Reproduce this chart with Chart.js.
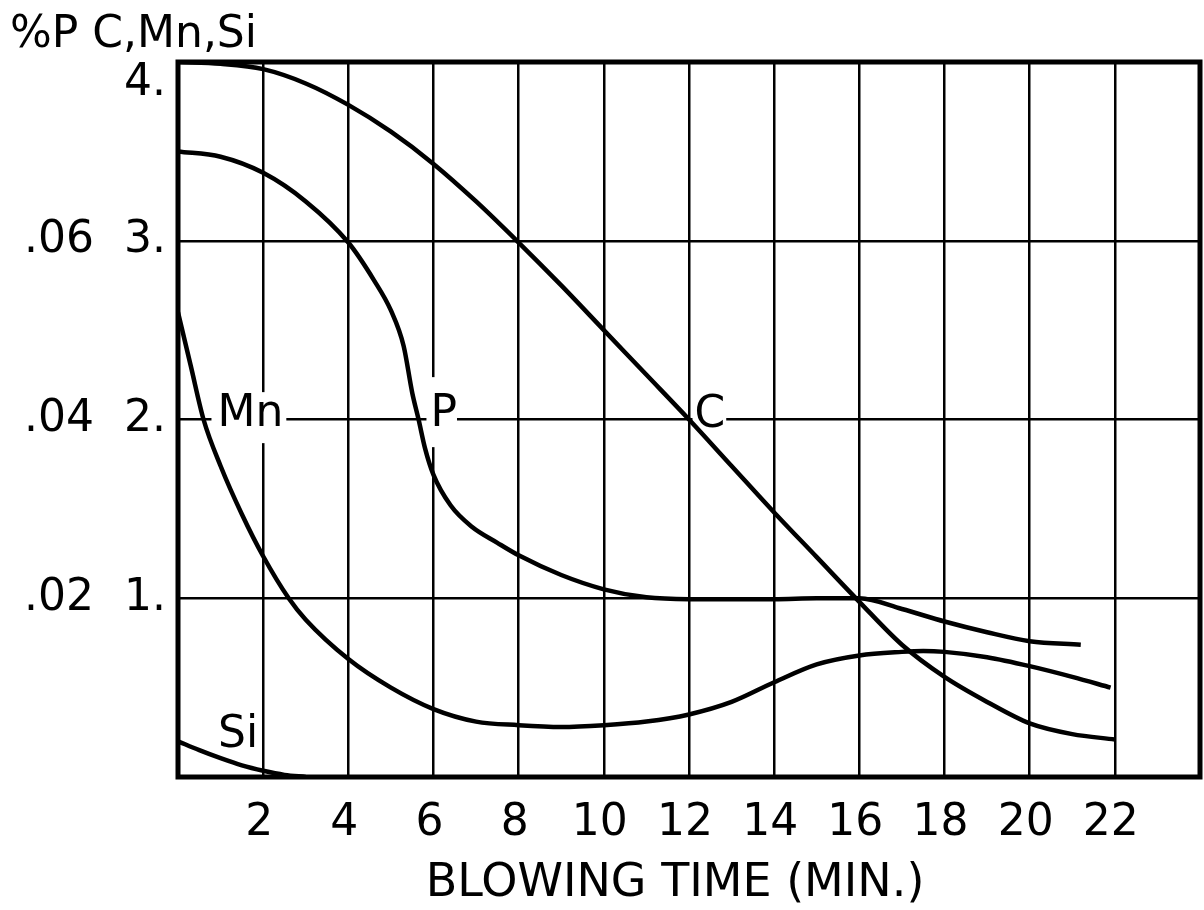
<!DOCTYPE html>
<html>
<head>
<meta charset="utf-8">
<script src="https://cdn.jsdelivr.net/npm/chart.js@4.4.1/dist/chart.umd.min.js"></script>
<style>
html,body{margin:0;padding:0;background:#fff;}
#wrap{width:1204px;height:910px;position:relative;}
</style>
</head>
<body>
<div id="wrap"><canvas id="c" width="1204" height="910"></canvas></div>
<script>
// ---- tick values and labels ----
const timeTicks = [2, 4, 6, 8, 10, 12, 14, 16, 18, 20, 22];
const timeTickLabels = ["2", "4", "6", "8", "10", "12", "14", "16", "18", "20", "22"];
const cmnsiTicks = [1, 2, 3, 4];
const cmnsiTickLabels = ["1.", "2.", "3.", "4."];
const pTicks = [0.02, 0.04, 0.06];
const pTickLabels = [".02", ".04", ".06"];

// ---- series (blowing time in min, %) ----
const cTime  = [0, 1, 2, 3, 4, 5, 6, 7, 8, 9, 10, 11, 12, 13, 14, 15, 16, 17, 18, 19, 20, 21, 22];
const cValue = [4.0, 3.99, 3.96, 3.88, 3.76, 3.61, 3.43, 3.22, 2.99, 2.75, 2.50, 2.25, 2.0, 1.74, 1.48, 1.23, 0.98, 0.74, 0.56, 0.42, 0.30, 0.24, 0.21];

const pTime  = [0, 1, 2, 3, 4, 4.6, 5, 5.3, 5.5, 5.65, 5.8, 6, 6.4, 6.9, 7.5, 8, 9, 10, 11, 12, 13, 14, 15, 16, 17, 18, 19, 20, 21.2];
const pValue = [3.50, 3.47, 3.38, 3.22, 2.99, 2.78, 2.61, 2.41, 2.15, 2.0, 1.84, 1.69, 1.52, 1.40, 1.31, 1.24, 1.13, 1.05, 1.005, 0.995, 0.995, 0.995, 1.0, 1.0, 0.94, 0.87, 0.81, 0.76, 0.74];

const mnTime  = [0, 0.3, 0.6, 1, 1.5, 2, 2.6, 3, 4, 5, 6, 7, 8, 9, 10, 11, 12, 13, 14, 15, 16, 17, 17.5, 18, 19, 20, 21, 21.9];
const mnValue = [2.60, 2.30, 2.0, 1.74, 1.47, 1.235, 1.0, 0.88, 0.66, 0.50, 0.38, 0.31, 0.29, 0.28, 0.29, 0.31, 0.35, 0.42, 0.53, 0.63, 0.68, 0.70, 0.705, 0.70, 0.67, 0.62, 0.56, 0.50];

const siTime  = [0, 0.5, 1, 1.5, 2, 2.5, 3];
const siValue = [0.20, 0.15, 0.105, 0.065, 0.035, 0.012, 0.0];

// ---- curve labels ----
const curveLabels = ["Mn", "P", "C", "Si"];
const curveLabelTime = [1.70, 6.24, 12.49, 1.41];
const curveLabelValue = [2.03, 2.03, 2.02, 0.23];

const pToScale = 50; // %P value * 50 = position on the C,Mn,Si scale

const FONT = "'DejaVu Sans', sans-serif";
const pts = (xs, ys) => xs.map((x, i) => ({x: x, y: ys[i]}));

// white knock-out boxes around curve labels: [left, top, right, bottom] padding in px
const labelBoxPad = [[6, 6, 3, 13], [4, 21, 0, 17], [2, 0, 1, 0], null];

const deco = {
  id: 'deco',
  beforeDatasetsDraw(chart) {
    const ctx = chart.ctx, xs = chart.scales.x, ys = chart.scales.y;
    ctx.save();
    ctx.font = '44px ' + FONT;
    curveLabels.forEach((t, i) => {
      const px = xs.getPixelForValue(curveLabelTime[i]);
      const py = ys.getPixelForValue(curveLabelValue[i]);
      const w = ctx.measureText(t).width;
      const b = labelBoxPad[i];
      if (b) {
        ctx.fillStyle = '#fff';
        ctx.fillRect(px - w / 2 - b[0], py - 16 - b[1], w + b[0] + b[2], 32 + b[1] + b[3]);
      }
      ctx.fillStyle = '#000';
      ctx.textAlign = 'center';
      ctx.textBaseline = 'middle';
      ctx.fillText(t, px, py);
    });
    ctx.restore();
  },
  afterDatasetsDraw(chart) {
    const ctx = chart.ctx, a = chart.chartArea;
    ctx.save();
    ctx.strokeStyle = '#000';
    ctx.lineWidth = 5;
    ctx.strokeRect(a.left, a.top, a.right - a.left, a.bottom - a.top);
    ctx.restore();
  },
  afterDraw(chart) {
    const ctx = chart.ctx, ys = chart.scales.y;
    ctx.save();
    ctx.fillStyle = '#000';
    ctx.font = '44px ' + FONT;
    ctx.textBaseline = 'middle';
    ctx.textAlign = 'right';
    cmnsiTicks.forEach((v, i) => {
      let py = ys.getPixelForValue(v);
      if (v === 4) py += 22;
      ctx.fillText(cmnsiTickLabels[i], 166, py);
    });
    pTicks.forEach((v, i) => {
      const py = ys.getPixelForValue(v * pToScale);
      ctx.fillText(pTickLabels[i], 94, py);
    });
    // axis titles
    ctx.textAlign = 'left';
    ctx.textBaseline = 'alphabetic';
    ctx.fillText('%P C,Mn,Si', 10, 47);
    ctx.font = '46px ' + FONT;
    ctx.textAlign = 'center';
    ctx.textBaseline = 'middle';
    ctx.fillText('BLOWING TIME (MIN.)', 675, 884);
    ctx.restore();
  }
};

const lineStyle = {
  borderColor: '#000',
  borderWidth: 4.5,
  pointRadius: 0,
  fill: false,
  cubicInterpolationMode: 'monotone'
};

new Chart(document.getElementById('c'), {
  type: 'line',
  data: {
    datasets: [
      Object.assign({label: 'C', data: pts(cTime, cValue)}, lineStyle),
      Object.assign({label: 'P', data: pts(pTime, pValue)}, lineStyle),
      Object.assign({label: 'Mn', data: pts(mnTime, mnValue)}, lineStyle),
      Object.assign({label: 'Si', data: pts(siTime, siValue)}, lineStyle)
    ]
  },
  options: {
    responsive: false,
    animation: false,
    devicePixelRatio: 1,
    layout: {autoPadding: false, padding: {left: 178, top: 62, right: 4, bottom: 0}},
    plugins: {legend: {display: false}, tooltip: {enabled: false}},
    scales: {
      x: {
        type: 'linear', min: 0, max: 24,
        afterBuildTicks: s => { s.ticks = [0].concat(timeTicks, [24]).map(v => ({value: v})); },
        afterFit: s => { s.height = 133; s.paddingLeft = 0; s.paddingRight = 0; },
        border: {display: false},
        grid: {color: '#000', lineWidth: 2.5, drawTicks: false},
        ticks: {
          color: '#000', font: {family: FONT, size: 44}, padding: 20, labelOffset: -4,
          autoSkip: false, maxRotation: 0,
          callback: v => { const i = timeTicks.indexOf(v); return i >= 0 ? timeTickLabels[i] : ''; }
        }
      },
      y: {
        type: 'linear', min: 0, max: 4,
        afterBuildTicks: s => { s.ticks = [0].concat(cmnsiTicks).map(v => ({value: v})); },
        afterFit: s => { s.width = 0; s.paddingTop = 0; s.paddingBottom = 0; },
        border: {display: false},
        grid: {color: '#000', lineWidth: 2.5, drawTicks: false},
        ticks: {display: false}
      }
    }
  },
  plugins: [deco]
});
</script>
</body>
</html>
